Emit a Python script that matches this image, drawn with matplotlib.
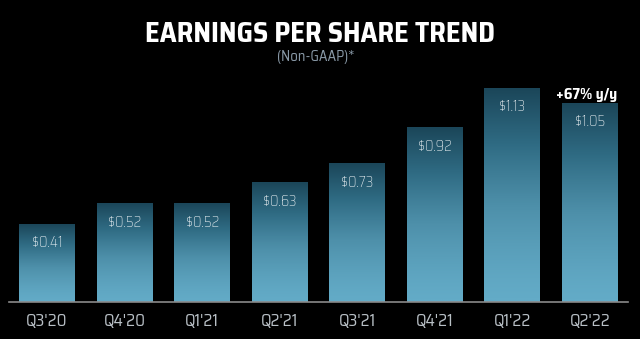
import numpy as np
import matplotlib
matplotlib.use("Agg")
import matplotlib.pyplot as plt
from matplotlib.colors import LinearSegmentedColormap

# Quarterly non-GAAP EPS
quarters = ["Q3'20", "Q4'20", "Q1'21", "Q2'21", "Q3'21", "Q4'21", "Q1'22", "Q2'22"]
eps = [0.41, 0.52, 0.52, 0.63, 0.73, 0.92, 1.13, 1.05]
value_labels = ["$0.41", "$0.52", "$0.52", "$0.63", "$0.73", "$0.92", "$1.13", "$1.05"]
yoy_note = "+67% y/y"

plt.rcParams['font.family'] = ['Saira SemiCondensed', 'Saira Semi Condensed', 'DejaVu Sans']

fig = plt.figure(figsize=(6.4, 3.39), dpi=100, facecolor='black')
ax = fig.add_axes([9 / 640, 1 - 302 / 339, 619 / 640, 227 / 339])
ax.set_facecolor('black')

# dark teal at the top of each bar fading to light blue at the base
cmap = LinearSegmentedColormap.from_list('eps', ['#63abc7', '#4e90aa', '#2f6b83', '#1b4659'])
grad = (np.linspace(0, 1, 256) ** 1.35).reshape(-1, 1)

width = 0.72
x = np.arange(len(quarters))
for xi, v, lab in zip(x, eps, value_labels):
    ax.imshow(grad, extent=[xi - width / 2, xi + width / 2, 0, v], origin='lower',
              aspect='auto', cmap=cmap, vmin=0, vmax=1, zorder=2)
    ax.text(xi, v - 0.1, lab, ha='center', va='center', color='#f2f6f8',
            fontsize=10.5, fontweight='light', zorder=3)

ax.text(x[-1] - 0.04, eps[-1] + 0.042, yoy_note, ha='center', va='center', color='white',
        fontsize=11, fontweight='bold', zorder=3)

ax.set_xlim(-0.49, len(quarters) - 0.51)
ax.set_ylim(0, 1.2)
ax.set_xticks(x)
ax.set_xticklabels(quarters, color='#b9c0c6', fontsize=12.3)
ax.tick_params(axis='x', length=0, pad=8)
ax.set_yticks([])
for side in ['top', 'right', 'left']:
    ax.spines[side].set_visible(False)
ax.spines['bottom'].set_color('#8a8a8a')
ax.spines['bottom'].set_linewidth(1.2)
ax.spines['bottom'].set_zorder(4)

fig.text(0.5, 1 - 34.5 / 339, "EARNINGS PER SHARE TREND", ha='center', va='center',
         color='white', fontsize=20.3, fontweight='bold')
fig.text(0.493, 1 - 57.5 / 339, "(Non-GAAP)*", ha='center', va='center',
         color='#8a9aa8', fontsize=10.5)

fig.savefig('out.png', dpi=100, facecolor='black')
